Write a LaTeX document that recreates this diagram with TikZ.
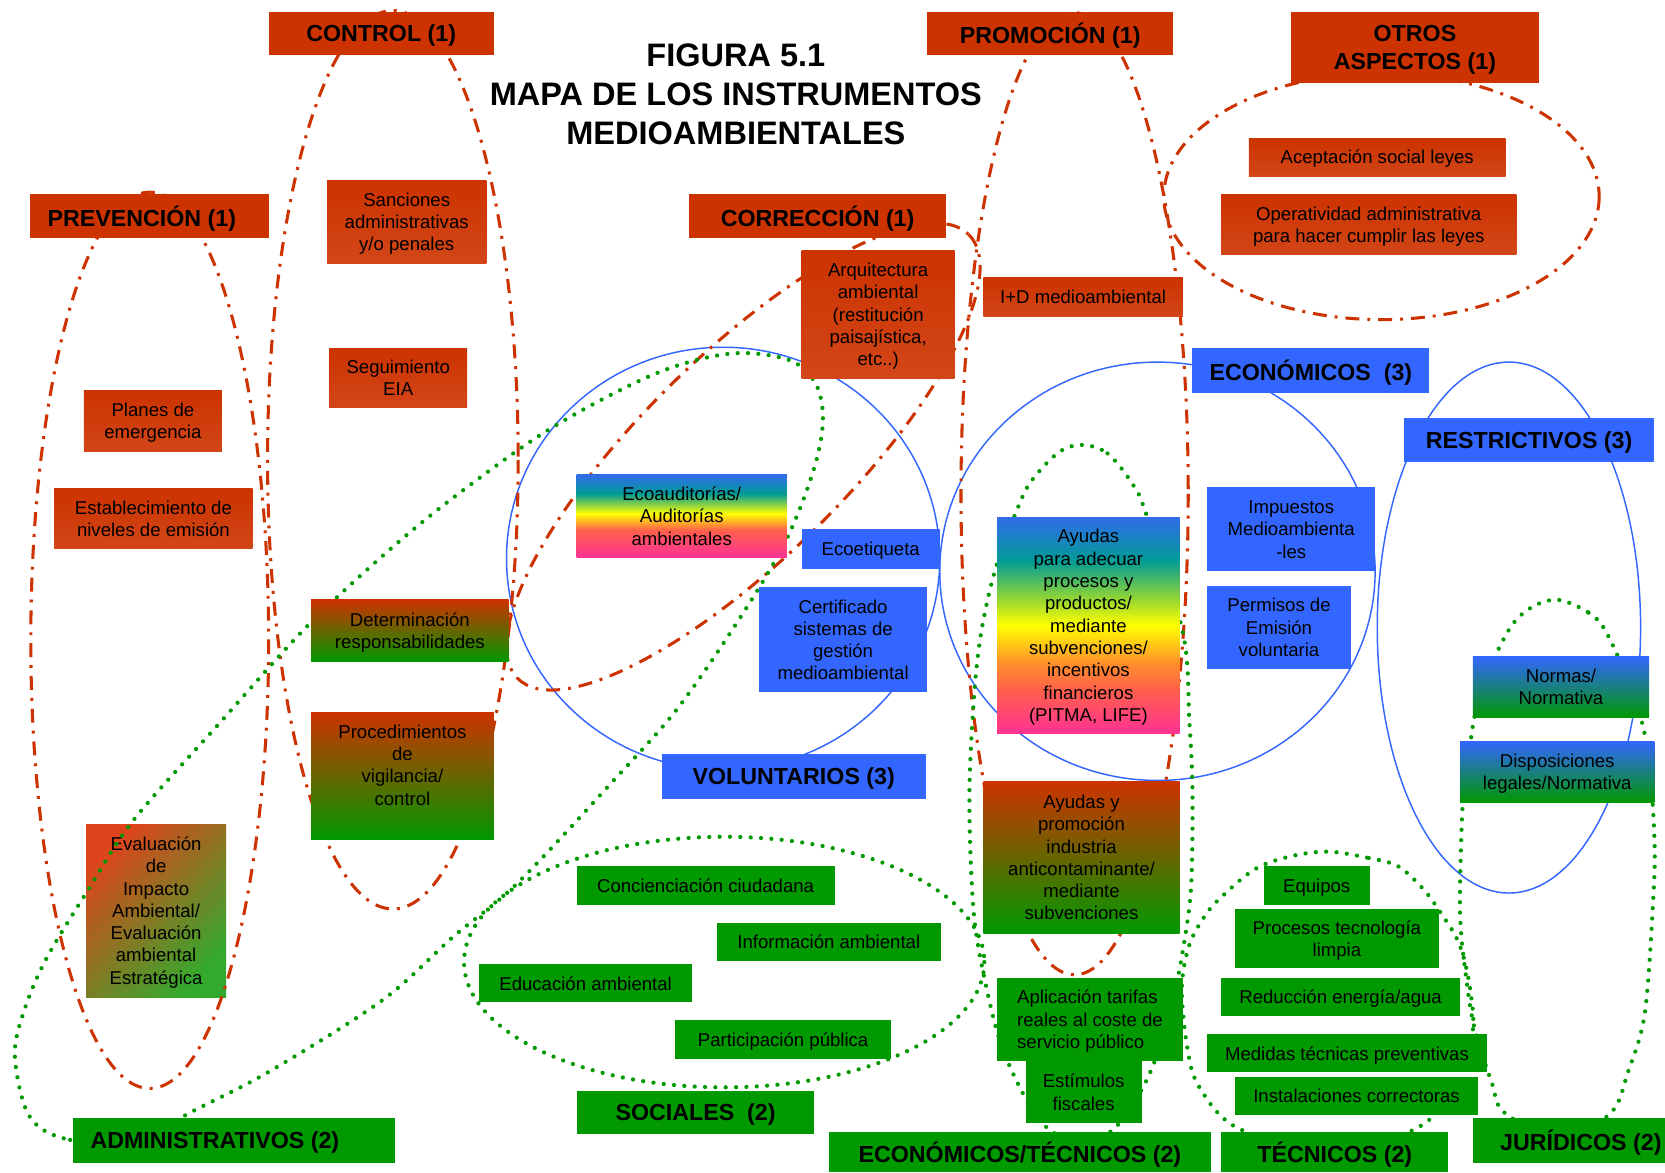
\documentclass[tikz,border=0pt]{standalone}
\usepackage{fontspec}
\setmainfont{Liberation Sans}
\definecolor{cred}{RGB}{204,51,0}
\definecolor{credb}{RGB}{210,70,24}
\definecolor{cgreen}{RGB}{0,153,0}
\definecolor{cblue}{RGB}{51,102,255}
\definecolor{rbblue}{RGB}{50,108,235}
\definecolor{rbteal}{RGB}{0,155,150}
\definecolor{rbgy}{RGB}{150,215,50}
\definecolor{rbyellow}{RGB}{255,255,0}
\definecolor{rborange}{RGB}{255,140,45}
\definecolor{rbred}{RGB}{255,95,75}
\definecolor{rbpink}{RGB}{255,50,150}
\definecolor{evtl}{RGB}{222,68,28}
\definecolor{evbr}{RGB}{50,170,45}
\pgfdeclareverticalshading{rainbowA}{100bp}{color(0bp)=(rbpink); color(25bp)=(rbpink); color(41.5bp)=(rbred); color(51.5bp)=(rbyellow); color(63.5bp)=(rbteal); color(75bp)=(rbblue); color(100bp)=(rbblue)}
\pgfdeclareverticalshading{rainbowB}{100bp}{color(0bp)=(rbpink); color(25bp)=(rbpink); color(35bp)=(rbred); color(41bp)=(rborange); color(50bp)=(rbyellow); color(56bp)=(rbgy); color(65bp)=(rbteal); color(75bp)=(rbblue); color(100bp)=(rbblue)}
\newcommand\fTxt{\fontsize{14}{16.8}\selectfont}
\newcommand\fCat{\fontsize{17.5}{21.6}\selectfont\bfseries}
\newcommand\fTitle{\fontsize{24.5}{29.6}\selectfont\bfseries}
% \mybox{name}{style}{x1}{y1}{x2}{y2}{text}
\newcommand\mybox[7]{\node[#2, minimum width={(#5-#3)*0.8pt}, minimum height={(#6-#4)*0.8pt}] (#1) at ({(#3+#5)/2},{(#4+#6)/2}) {#7};}
\begin{document}
\begin{tikzpicture}[x=0.8pt,y=-0.8pt,
  box/.style={inner sep=0pt, outer sep=0pt, align=center, text=black, font=\fTxt, text depth=0pt},
  obox/.style={box, top color=cred, bottom color=credb},
  ocat/.style={box, fill=cred, font=\fCat},
  gbox/.style={box, fill=cgreen},
  gcat/.style={box, fill=cgreen, font=\fCat},
  bbox/.style={box, fill=cblue},
  bcat/.style={box, fill=cblue, font=\fCat},
  ogbox/.style={box, top color=cred, bottom color=cgreen},
  bgbox/.style={box, top color=cblue, bottom color=cgreen},
  evbox/.style={box, top color=evtl, bottom color=evbr, shading angle=45},
  rbA/.style={box, shade, shading=rainbowA},
  rbB/.style={box, shade, shading=rainbowB},
  odash/.style={draw=cred, line width=2.3pt, dash pattern=on 10.5pt off 6pt on 2.2pt off 6pt},
  gdot/.style={draw=cgreen, line width=3.2pt, line cap=round, dash pattern=on 0pt off 7.8pt},
  bline/.style={draw=cblue, line width=1.1pt}]
\useasboundingbox (0,0) rectangle (1568,1104);

% Evaluacion box (under the dotted loop)
\mybox{eval}{evbox}{81}{776}{213}{939}{Evaluación\\de\\Impacto\\Ambiental/\\Evaluación\\ambiental\\Estratégica}

% blue circles
\draw[bline] (681,526) ellipse [x radius=204, y radius=199];
\draw[bline] (1090,538) ellipse [x radius=205, y radius=197];
\draw[bline] (1421,591) ellipse [x radius=124, y radius=250];

% orange dash-dot groups
\draw[odash] (141,603) ellipse [x radius=112, y radius=422];
\draw[odash] (370,433) ellipse [x radius=118, y radius=423];
\draw[odash] (1012,465) ellipse [x radius=107, y radius=453];
\draw[odash, rotate around={44.5:(700,430)}] (700,430) ellipse [x radius=298, y radius=96];
\draw[odash] (1301,185) ellipse [x radius=205, y radius=116];

% green dotted groups
\draw[gdot] plot[smooth cycle, tension=0.55] coordinates {(130,1078) (60,1072) (27,1050) (14,995) (22,954) (43,904) (83,838) (126,772) (205,683) (289,590) (370,515) (437,461) (521,402) (617,352) (688,333) (743,339) (768,361) (775,395) (767,440) (742,505) (702,574) (639,666) (576,737) (487,832) (427,882) (360,942) (252,1010) (175,1050)};
\draw[gdot] (682,906) ellipse [x radius=245, y radius=118];
\draw[gdot] plot[smooth cycle, tension=0.55] coordinates {(1019,419) (1043,427) (1066,455) (1079,483) (1114,596) (1120,678) (1123,744) (1122,829) (1117,876) (1105,940) (1084,1008) (1054,1058) (1020,1078) (986,1062) (963,1029) (940,975) (921,890) (915,829) (913,741) (918,647) (925,590) (938,534) (959,477) (972,452) (997,426)};
\draw[gdot] plot[smooth cycle, tension=0.55] coordinates {(1250,802) (1289,808) (1317,816) (1341,838) (1357,860) (1371,882) (1379,904) (1385,935) (1387,970) (1375,1018) (1335,1062) (1250,1085) (1165,1062) (1129,1023) (1118,986) (1113,930) (1120,890) (1135,862) (1150,845) (1181,819) (1213,807)};
\draw[gdot] plot[smooth cycle, tension=0.55] coordinates {(1468,565) (1496,577) (1513,596) (1539,656) (1552,709) (1558,788) (1557,845) (1549,954) (1533,1010) (1517,1048) (1470,1072) (1417,1048) (1405,1020) (1389,970) (1381,923) (1375,860) (1377,766) (1380,741) (1388,678) (1401,634) (1423,590) (1444,571)};

% title
\node[align=center, font=\fTitle, inner sep=0pt] (title) at (693,89) {FIGURA 5.1\\MAPA DE LOS INSTRUMENTOS\\MEDIOAMBIENTALES};

% red category and item boxes
\mybox{control}{ocat}{253}{11}{465}{52}{CONTROL (1)}
\mybox{promo}{ocat}{873}{11}{1105}{52}{PROMOCIÓN (1)}
\mybox{otros}{ocat}{1216}{11}{1449}{78}{OTROS\\ASPECTOS (1)}
\mybox{prev}{ocat}{28}{183}{253}{224}{PREVENCIÓN (1)\hspace{11pt}}
\mybox{corr}{ocat}{649}{183}{891}{224}{CORRECCIÓN (1)}
\mybox{sanc}{obox}{308}{170}{458}{248}{Sanciones\\administrativas\\y/o penales}
\mybox{segu}{obox}{310}{328}{440}{384}{Seguimiento\\EIA}
\mybox{planes}{obox}{79}{368}{209}{425}{Planes de\\emergencia}
\mybox{estab}{obox}{51}{460}{238}{517}{Establecimiento de\\niveles de emisión}
\mybox{arq}{obox}{755}{236}{899}{356}{Arquitectura\\ambiental\\(restitución\\paisajística,\\etc..)}
\mybox{imasd}{obox}{926}{261}{1114}{298}{I+D medioambiental}
\mybox{acep}{obox}{1176}{130}{1418}{166}{Aceptación social leyes}
\mybox{oper}{obox}{1150}{183}{1428}{240}{Operatividad administrativa\\para hacer cumplir las leyes}

% gradient boxes
\mybox{determ}{ogbox}{293}{565}{479}{623}{Determinación\\responsabilidades}
\mybox{proc}{ogbox}{293}{671}{465}{791}{Procedimientos\\de\\vigilancia/\\control\\\mbox{}}
\mybox{ayprom}{ogbox}{926}{736}{1111}{879}{Ayudas y\\promoción\\industria\\anticontaminante/\\mediante\\subvenciones}
\mybox{ecoaud}{rbA}{543}{447}{741}{525}{Ecoauditorías/\\Auditorías\\ambientales}
\mybox{ayadec}{rbB}{939}{487}{1111}{691}{Ayudas\\para adecuar\\procesos y\\productos/\\mediante\\subvenciones/\\incentivos\\financieros\\(PITMA, LIFE)}

% blue boxes
\mybox{econ}{bcat}{1123}{328}{1346}{370}{ECONÓMICOS~~(3)}
\mybox{restr}{bcat}{1322}{394}{1558}{435}{RESTRICTIVOS (3)}
\mybox{ecoet}{bbox}{755}{498}{885}{536}{Ecoetiqueta}
\mybox{certif}{bbox}{715}{553}{873}{652}{Certificado\\sistemas de\\gestión\\medioambiental}
\mybox{volun}{bcat}{623}{710}{872}{752}{VOLUNTARIOS (3)}
\mybox{impu}{bbox}{1137}{459}{1295}{538}{Impuestos\\Medioambienta\\-les}
\mybox{perm}{bbox}{1137}{552}{1272}{630}{Permisos de\\Emisión\\voluntaria}
\mybox{normas}{bgbox}{1387}{618}{1553}{676}{Normas/\\Normativa}
\mybox{dispo}{bgbox}{1375}{698}{1558}{756}{Disposiciones\\legales/Normativa}

% green boxes
\mybox{admin}{gcat}{69}{1053}{372}{1095}{ADMINISTRATIVOS (2)\hspace{29pt}}
\mybox{soc}{gcat}{543}{1027}{767}{1068}{SOCIALES~~(2)}
\mybox{ectec}{gcat}{781}{1066}{1140}{1104}{ECONÓMICOS/TÉCNICOS (2)}
\mybox{tec}{gcat}{1150}{1066}{1364}{1104}{TÉCNICOS (2)}
\mybox{jur}{gcat}{1387}{1053}{1568}{1095}{\hspace{18pt}JURÍDICOS (2)}
\mybox{conc}{gbox}{543}{816}{786}{852}{Concienciación ciudadana}
\mybox{info}{gbox}{675}{869}{886}{905}{Información ambiental}
\mybox{educ}{gbox}{451}{908}{652}{944}{Educación ambiental}
\mybox{part}{gbox}{636}{961}{839}{997}{Participación pública}
\mybox{aplic}{gbox, align=left}{939}{921}{1114}{999}{Aplicación tarifas\\reales al coste de\\servicio público}
\mybox{estim}{gbox}{966}{999}{1075}{1058}{Estímulos\\fiscales}
\mybox{equip}{gbox}{1190}{816}{1290}{852}{Equipos}
\mybox{procl}{gbox}{1163}{856}{1355}{912}{Procesos tecnología\\limpia}
\mybox{reduc}{gbox}{1150}{921}{1375}{957}{Reducción energía/agua}
\mybox{medid}{gbox}{1137}{974}{1400}{1010}{Medidas técnicas preventivas}
\mybox{instal}{gbox}{1163}{1014}{1392}{1050}{Instalaciones correctoras}
\end{tikzpicture}
\end{document}
